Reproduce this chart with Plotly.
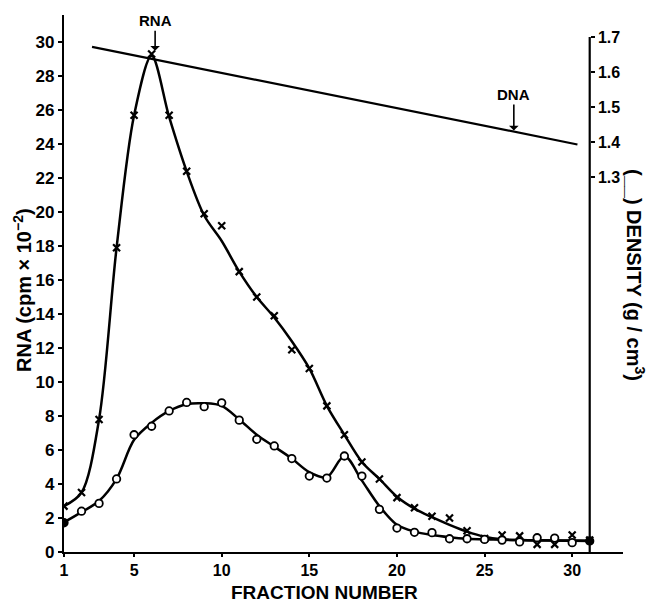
import plotly.graph_objects as go

# ---- data ----
fractions = list(range(1, 32))

# measured points, "x" series
rna_x_points = [2.7, 3.5, 7.8, 17.9, 25.7, 29.3, 25.7, 22.4, 19.9, 19.2,
                16.5, 15.0, 13.9, 11.9, 10.8, 8.6, 6.9, 5.3, 4.3, 3.2,
                2.6, 2.1, 2.0, 1.25, 0.8, 1.0, 0.95, 0.45, 0.45, 1.0, 0.7]
# measured points, "o" series
rna_o_points = [1.72, 2.4, 2.86, 4.3, 6.9, 7.4, 8.3, 8.8, 8.55, 8.78,
                7.76, 6.63, 6.24, 5.5, 4.47, 4.35, 5.65, 4.47, 2.51, 1.41,
                1.16, 1.14, 0.78, 0.78, 0.74, 0.7, 0.59, 0.84, 0.82, 0.55, 0.65]

# hand-drawn smooth curves (values read at each fraction)
rna_x_curve = [2.7, 3.5, 7.8, 17.9, 25.7, 29.2, 25.6, 22.4, 19.8, 18.3,
               16.5, 15.0, 13.8, 12.4, 10.8, 8.6, 6.9, 5.3, 4.3, 3.25,
               2.55, 2.05, 1.6, 1.2, 0.9, 0.75, 0.7, 0.68, 0.67, 0.66, 0.65]
rna_o_curve = [1.75, 2.35, 3.0, 4.3, 6.6, 7.6, 8.3, 8.7, 8.75, 8.6,
               7.8, 6.9, 6.2, 5.5, 4.7, 4.4, 5.65, 4.2, 2.7, 1.6,
               1.2, 1.0, 0.87, 0.78, 0.74, 0.72, 0.7, 0.69, 0.68, 0.67, 0.66]

# density gradient line (g/cm3)
density_fraction = [2.6, 30.3]
density_values = [1.672, 1.393]

x_ticks = [1, 5, 10, 15, 20, 25, 30]
y_ticks = list(range(0, 31, 2))
y2_ticks = [1.3, 1.4, 1.5, 1.6, 1.7]

FONT = "Liberation Sans, Arial, Helvetica, sans-serif"
X_RANGE = [1, 32.9]
Y_RANGE = [0, 31.6]
Y2_RANGE = [0.2286, 1.7629]

fig = go.Figure()

fig.add_trace(go.Scatter(x=density_fraction, y=density_values, yaxis="y2",
                         mode="lines", line=dict(color="black", width=2.2),
                         showlegend=False, hoverinfo="skip"))

fig.add_trace(go.Scatter(x=fractions, y=rna_x_curve, mode="lines",
                         line=dict(color="black", width=2.5, shape="spline", smoothing=0.9),
                         showlegend=False, hoverinfo="skip"))
fig.add_trace(go.Scatter(x=fractions, y=rna_o_curve, mode="lines",
                         line=dict(color="black", width=2.5, shape="spline", smoothing=0.9),
                         showlegend=False, hoverinfo="skip"))

fig.add_trace(go.Scatter(x=fractions, y=rna_x_points, mode="markers",
                         marker=dict(symbol="x-thin", size=7, color="black",
                                     line=dict(color="black", width=2.2)),
                         showlegend=False))

o_fill = ["black" if i in (0, len(fractions) - 1) else "white" for i in range(len(fractions))]
fig.add_trace(go.Scatter(x=fractions, y=rna_o_points, mode="markers",
                         marker=dict(symbol="circle", size=7.5, color=o_fill,
                                     line=dict(color="black", width=1.8)),
                         showlegend=False))

# right axis line from bottom up to 1.7
fig.add_shape(type="line", xref="x", yref="y2", x0=31, x1=31,
              y0=Y2_RANGE[0], y1=1.7, line=dict(color="black", width=2.2))

fig.update_layout(
    width=654, height=603,
    margin=dict(l=64, r=31, t=15, b=51),
    paper_bgcolor="white", plot_bgcolor="white",
    font=dict(family=FONT, color="black", size=16, weight="bold"),
    xaxis=dict(range=X_RANGE, tickvals=x_ticks, showgrid=False, zeroline=False,
               showline=True, linecolor="black", linewidth=2.2,
               ticks="outside", ticklen=3, tickwidth=1.5, tickcolor="black",
               tickfont=dict(size=16, family=FONT, weight="bold")),
    yaxis=dict(range=Y_RANGE, tickvals=y_ticks, showgrid=False, zeroline=False,
               showline=True, linecolor="black", linewidth=2.2,
               ticks="outside", ticklen=4, tickwidth=1.5, tickcolor="black",
               tickfont=dict(size=17, family=FONT, weight="bold")),
    yaxis2=dict(range=Y2_RANGE, tickvals=y2_ticks, overlaying="y", side="right",
                anchor="free", position=(31 - X_RANGE[0]) / (X_RANGE[1] - X_RANGE[0]),
                showgrid=False, zeroline=False, showline=False,
                ticks="outside", ticklen=4, tickwidth=1.5, tickcolor="black",
                tickformat=".1f", tickfont=dict(size=16, family=FONT, weight="bold")),
)

annotations = [
    dict(text="FRACTION NUMBER", xref="paper", yref="paper",
         x=(324 - 64) / (654 - 64 - 31), y=-(592 - 552) / (552 - 15),
         xanchor="center", yanchor="middle", showarrow=False,
         font=dict(size=19, family=FONT, weight="bold")),
    dict(text="RNA (cpm × 10<sup>−2</sup>)", xref="paper", yref="paper",
         x=-(64 - 22) / (654 - 64 - 31), y=(552 - 290) / (552 - 15),
         xanchor="center", yanchor="middle", textangle=-90, showarrow=False,
         font=dict(size=20, family=FONT, weight="bold")),
    dict(text="(__) DENSITY (g / cm<sup>3</sup>)", xref="paper", yref="paper",
         x=(636 - 64) / (654 - 64 - 31), y=(552 - 275) / (552 - 15),
         xanchor="center", yanchor="middle", textangle=90, showarrow=False,
         font=dict(size=20, family=FONT, weight="bold")),
    dict(text="RNA", x=6.2, y=29.5, xref="x", yref="y", ax=0, ay=-30,
         showarrow=True, arrowhead=1, arrowsize=1, arrowwidth=1.6,
         arrowcolor="black", standoff=0, font=dict(size=15, family=FONT, weight="bold")),
    dict(text="DNA", x=26.67, y=24.8, xref="x", yref="y", ax=0, ay=-36,
         showarrow=True, arrowhead=1, arrowsize=1, arrowwidth=1.6,
         arrowcolor="black", standoff=0, font=dict(size=15, family=FONT, weight="bold")),
]
fig.update_layout(annotations=annotations)

fig.write_html("out.html")
